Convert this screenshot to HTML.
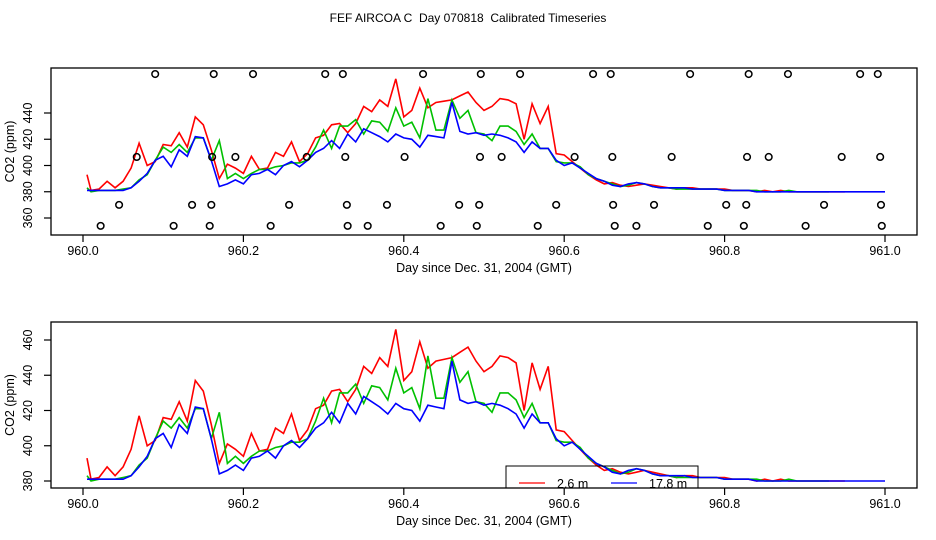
<!DOCTYPE html>
<html><head><meta charset="utf-8"><style>
html,body{margin:0;padding:0;background:#fff;}
svg{display:block;font-family:"Liberation Sans",sans-serif;}
</style></head><body>
<svg id="chart" width="936" height="540" viewBox="0 0 936 540">
<rect width="936" height="540" fill="#fff"/>
<text x="468" y="22" font-size="12" text-anchor="middle" style="white-space:pre" xml:space="preserve">FEF AIRCOA C  Day 070818  Calibrated Timeseries</text>
</svg>
<script>
const days = [0.005,0.01,0.02,0.03,0.04,0.05,0.06,0.07,0.08,0.09,0.10,0.11,0.12,0.13,0.14,0.15,0.16,0.17,0.18,0.19,0.20,0.21,0.22,0.23,0.24,0.25,0.26,0.27,0.28,0.29,0.30,0.31,0.32,0.33,0.34,0.35,0.36,0.37,0.38,0.39,0.40,0.41,0.42,0.43,0.44,0.45,0.46,0.47,0.48,0.49,0.50,0.51,0.52,0.53,0.54,0.55,0.56,0.57,0.58,0.59,0.60,0.61,0.62,0.63,0.64,0.65,0.66,0.67,0.68,0.69,0.70,0.71,0.72,0.73,0.74,0.75,0.76,0.77,0.78,0.79,0.80,0.81,0.82,0.83,0.84,0.85,0.86,0.87,0.88,0.89,0.90,0.91,0.92,0.93,0.94,0.95,0.96,0.97,0.98,0.99,1.00];
const redSeries = [393,381,382,388,383,388,398,417,400,403,416,415,425,414,437,431,412,390,401,398,394,407,397,398,410,407,418,403,409,421,423,431,432,425,432,445,441,450,445,466,437,442,459,444,448,449,450,453,456,448,442,445,451,450,447,420,447,432,445,409,408,403,398,393,389,386,387,385,384,385,386,385,384,383,382,383,383,382,382,382,382,381,381,381,380,381,380,381,380,380,380,380,380,380,380,380,null,null,null,null,null];
const greenSeries = [383,380,381,381,381,382,383,389,393,404,414,410,416,410,421,421,404,419,390,394,390,394,397,397,399,400,402,402,404,414,427,413,430,430,435,424,434,433,426,444,430,433,421,451,427,427,450,436,442,425,424,419,430,430,426,416,424,413,413,403,402,402,399,393,390,388,386,384,385,387,386,384,383,383,382,382,382,382,382,382,381,381,381,381,381,380,380,380,381,380,380,380,380,380,null,null,null,null,null,null,null];
const blueSeries = [381,381,381,381,381,381,383,388,394,404,407,399,412,407,422,421,404,384,386,389,386,393,394,397,393,400,403,399,404,410,413,419,413,424,418,428,425,422,418,424,421,420,414,423,422,421,448,426,424,425,423,424,423,421,418,410,418,413,413,404,400,402,398,394,390,388,385,384,386,387,386,384,383,383,383,383,382,382,382,382,381,381,381,381,380,380,380,380,380,380,380,380,380,380,380,380,380,380,380,380,380];
const flagRowLevels = [469.7,406.5,370,354];
const flagRow1 = [.090,.163,.212,.302,.324,.424,.496,.545,.636,.658,.757,.830,.879,.969,.991];
const flagRow2 = [.067,.161,.190,.279,.327,.401,.495,.522,.613,.660,.734,.828,.855,.946,.994];
const flagRow3 = [.045,.136,.160,.257,.329,.379,.469,.494,.590,.661,.712,.802,.827,.924,.995];
const flagRow4 = [.022,.113,.158,.234,.330,.355,.446,.491,.567,.663,.690,.779,.824,.901,.996];
const xTicks = [0,0.2,0.4,0.6,0.8,1.0];
const xTickLabels = ["960.0","960.2","960.4","960.6","960.8","961.0"];
const topYTicks = [360,380,400,420,440];
const topYLabels = ["360","380","400","420","440"];
const botYTicks = [380,400,420,440,460];
const botYLabels = ["380","400","420","440","460"];

const NS="http://www.w3.org/2000/svg";
const svg=document.getElementById('chart');
function mk(tag,attrs,parent){const e=document.createElementNS(NS,tag);for(const k in attrs)e.setAttribute(k,attrs[k]);(parent||svg).appendChild(e);return e;}
const xS=d=>83+802*d;

function panel(p){
  const g=mk('g',{});
  
  
  const yS=v=>p.y0+(v-p.v0)*p.k;
  const box=mk('rect',{x:51,y:p.top,width:866,height:p.bot-p.top,fill:'none',stroke:'#000','stroke-width':1.3},g);
  
  
  xTicks.forEach((t,i)=>{
    const l=mk('line',{x1:xS(t),x2:xS(t),y1:p.bot,y2:p.bot+7,stroke:'#000','stroke-width':1.2},g);
    
    
    const tx=mk('text',{x:xS(t),y:p.bot+20,'font-size':12.5,'text-anchor':'middle'},g);
    tx.textContent=xTickLabels[i];
    
    
  });
  const xt=mk('text',{x:484,y:p.bot+37,'font-size':12.5,'text-anchor':'middle'},g);
  xt.textContent='Day since Dec. 31, 2004 (GMT)';
  
  
  p.yt.forEach((t,i)=>{
    const y=yS(t);
    const l=mk('line',{x1:44,x2:51,y1:y,y2:y,stroke:'#000','stroke-width':1.2},g);
    
    
    const tx=mk('text',{x:0,y:0,'font-size':12.5,'text-anchor':'middle',transform:`translate(32,${y}) rotate(-90)`},g);
    tx.textContent=p.yl[i];
    
    
  });
  const yt=mk('text',{x:0,y:0,'font-size':12.5,'text-anchor':'middle',transform:`translate(14,${(p.top+p.bot)/2}) rotate(-90)`},g);
  yt.textContent='CO2 (ppm)';
  
  
  const cp='clip'+p.name;
  const c=mk('clipPath',{id:cp},g);mk('rect',{x:51,y:p.top,width:866,height:p.bot-p.top},c);
  [[redSeries,'#ff0000','series-2-6m'],[greenSeries,'#00c000','series-mid'],[blueSeries,'#0000ff','series-17-8m']].forEach(([s,col,nm])=>{
    let d='',pen=false;
    s.forEach((v,i)=>{if(v==null){pen=false;return;}d+=(pen?'L':'M')+xS(days[i]).toFixed(1)+','+yS(v).toFixed(1);pen=true;});
    const pa=mk('path',{d:d,fill:'none',stroke:col,'stroke-width':1.6,'clip-path':`url(#${cp})`},g);
    
    
  });
  if(p.flags){
    [flagRow1,flagRow2,flagRow3,flagRow4].forEach((row,ri)=>{
      row.forEach(dd=>{
        const ci=mk('circle',{cx:xS(dd),cy:yS(flagRowLevels[ri]),r:3.3,fill:'none',stroke:'#000','stroke-width':1.5},g);
        
        
      });
    });
  }
  return g;
}
panel({name:'top-panel',top:68,bot:235,y0:218,v0:360,k:-26.25/20,yt:topYTicks,yl:topYLabels,flags:true});
panel({name:'bottom-panel',top:322,bot:488,y0:481,v0:380,k:-1.7625,yt:botYTicks,yl:botYLabels,flags:false});
const lg=mk('g',{});


mk('rect',{x:506,y:466,width:192,height:22,fill:'none',stroke:'#000','stroke-width':1},lg);
const l1=mk('line',{x1:519,x2:545,y1:483,y2:483,stroke:'#ff0000','stroke-width':1.2},lg);


const t1=mk('text',{x:557,y:488,'font-size':12.5},lg);t1.textContent='2.6 m';


const l2=mk('line',{x1:611,x2:637,y1:483,y2:483,stroke:'#0000ff','stroke-width':1.2},lg);


const t2=mk('text',{x:649,y:488,'font-size':12.5},lg);t2.textContent='17.8 m';


</script>
</body></html>
